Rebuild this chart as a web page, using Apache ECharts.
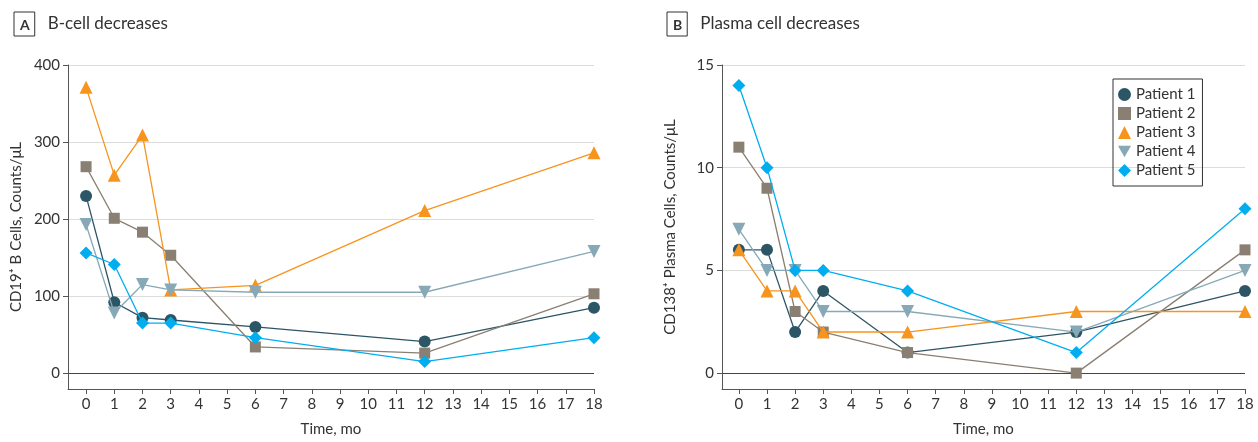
<!DOCTYPE html>
<html>
<head>
<meta charset="utf-8">
<script src="https://cdn.jsdelivr.net/npm/echarts@6/dist/echarts.min.js"></script>
<style>
  html, body { margin: 0; padding: 0; background: #fff; }
  #chart { width: 1258px; height: 442px; }
</style>
</head>
<body>
<div id="chart"></div>
<script>
// months since treatment
const months = [0, 1, 2, 3, 6, 12, 18];
const patients = ["Patient 1", "Patient 2", "Patient 3", "Patient 4", "Patient 5"];

// A: CD19+ B cells, counts/uL
const bCellP1 = [230, 92, 72, 69, 60, 41, 85];
const bCellP2 = [268, 201, 183, 153, 34, 26, 103];
const bCellP3 = [371, 257, 309, 108, 114, 211, 286];
const bCellP4 = [193, 78, 115, 108, 105, 105, 158];
const bCellP5 = [156, 141, 65, 65, 46, 15, 46];

// B: CD138+ plasma cells, counts/uL
const plasmaP1 = [6, 6, 2, 4, 1, 2, 4];
const plasmaP2 = [11, 9, 3, 2, 1, 0, 6];
const plasmaP3 = [6, 4, 4, 2, 2, 3, 3];
const plasmaP4 = [7, 5, 5, 3, 3, 2, 5];
const plasmaP5 = [14, 10, 5, 5, 4, 1, 8];

const xTicks = [0, 1, 2, 3, 4, 5, 6, 7, 8, 9, 10, 11, 12, 13, 14, 15, 16, 17, 18];
const bCellTicks = [0, 100, 200, 300, 400];
const plasmaTicks = [0, 5, 10, 15];

const colors = ["#2c5566", "#8a7f73", "#f7941d", "#87a9b7", "#00aeef"];
const symbols = ["circle", "rect", "triangle", "path://M0,0L10,0L5,9Z", "diamond"];
const sizes = [12, 11, 13, 13, 13];

const FONT = "Lato";
const chart = echarts.init(document.getElementById("chart"));

const makeX = (idx, min) => ({
  type: "value",
  gridIndex: idx,
  min: min,
  max: 18,
  name: "Time, mo",
  nameLocation: "middle",
  nameGap: 33,
  nameTextStyle: { color: "#333", fontSize: 15, fontFamily: FONT },
  axisLine: { onZero: false, lineStyle: { color: "#555", width: 1 } },
  axisTick: { customValues: xTicks, length: 5, lineStyle: { color: "#555" } },
  axisLabel: { customValues: xTicks, color: "#333", fontSize: 15, fontFamily: FONT, margin: 8 },
  splitLine: { show: false },
});

const makeY = (idx, min, max, ticks, name) => ({
  type: "value",
  gridIndex: idx,
  min: min,
  max: max,
  name: name,
  nameLocation: "middle",
  nameGap: 44,
  nameTextStyle: { color: "#333", fontSize: 15, fontFamily: FONT },
  axisLine: { show: true, onZero: false, lineStyle: { color: "#555", width: 1 } },
  axisTick: { show: true, customValues: ticks, length: 5, lineStyle: { color: "#555" } },
  axisLabel: { customValues: ticks, color: "#333", fontSize: 15, fontFamily: FONT, margin: 8 },
  splitLine: {
    show: true,
    lineStyle: { color: ["#444"].concat(ticks.slice(1).map(() => "#dcdcdc")), width: 1.2 },
  },
});

const makeSeries = (arrs, idx) =>
  arrs.map((arr, i) => ({
    name: patients[i],
    type: "line",
    xAxisIndex: idx,
    yAxisIndex: idx,
    data: months.map((m, j) => [m, arr[j]]),
    symbol: symbols[i],
    symbolSize: sizes[i],
    color: colors[i],
    lineStyle: { width: 1.3, color: colors[i] },
    itemStyle: { color: colors[i] },
    animation: false,
    z: 2 + i,
  }));

const titleRich = {
  b: { fontSize: 14, fontWeight: "bold", color: "#333", borderColor: "#333", borderWidth: 1, padding: [6, 5, 4, 6], fontFamily: FONT },
  t: { fontSize: 17, fontWeight: "normal", color: "#333", padding: [0, 0, 0, 13], fontFamily: FONT },
};

const option = {
  animation: false,
  textStyle: { fontFamily: FONT },
  title: [
    { text: "{b|A}{t|B-cell decreases}", left: 9, top: 7, textStyle: { fontWeight: "normal", rich: titleRich } },
    { text: "{b|B}{t|Plasma cell decreases}", left: 662, top: 7, textStyle: { fontWeight: "normal", rich: titleRich } },
  ],
  legend: {
    data: patients.map((p, i) => ({ name: p, icon: symbols[i] })),
    orient: "vertical",
    left: 1113,
    top: 79,
    padding: [8, 7, 8, 5],
    itemGap: 4,
    itemWidth: 13,
    itemHeight: 13,
    borderColor: "#333",
    borderWidth: 1,
    textStyle: { color: "#333", fontSize: 15, fontFamily: FONT, lineHeight: 15, padding: [0, 0, 0, 0] },
  },
  grid: [
    { left: 68, top: 65, width: 526, height: 326 },
    { left: 722, top: 65, width: 523, height: 326 },
  ],
  xAxis: [makeX(0, -0.64), makeX(1, -0.6)],
  yAxis: [
    makeY(0, -20.6, 400, bCellTicks, "CD19⁺ B Cells, Counts/μL"),
    makeY(1, -0.774, 15, plasmaTicks, "CD138⁺ Plasma Cells, Counts/μL"),
  ],
  series: makeSeries([bCellP1, bCellP2, bCellP3, bCellP4, bCellP5], 0).concat(
    makeSeries([plasmaP1, plasmaP2, plasmaP3, plasmaP4, plasmaP5], 1)
  ),
};

chart.setOption(option);
</script>
</body>
</html>
